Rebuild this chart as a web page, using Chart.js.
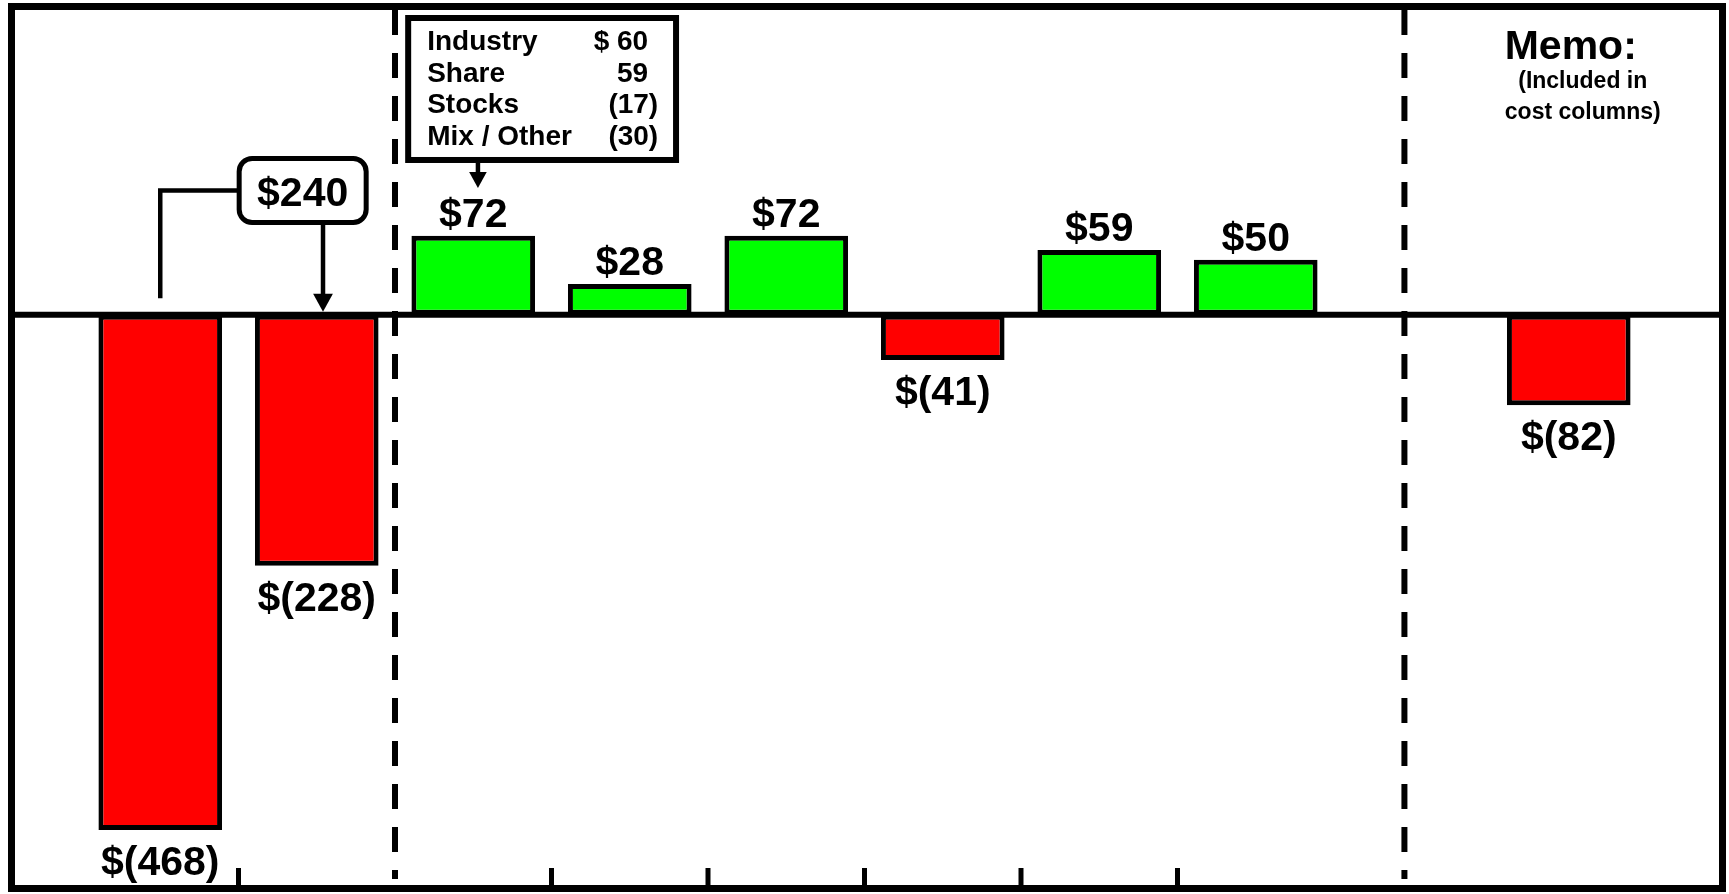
<!DOCTYPE html>
<html>
<head>
<meta charset="utf-8">
<script src="https://cdn.jsdelivr.net/npm/chart.js@4.4.0/dist/chart.umd.min.js"></script>
<style>
  html, body { margin: 0; padding: 0; background: #fff; }
  #wrap { position: relative; width: 1729px; height: 894px; }
</style>
</head>
<body>
<div id="wrap"><canvas id="walkChart"></canvas></div>
<script>
// columns of the walk; slot 8 is the empty gap before the memo column
const categories = ['Prior', 'Current', 'Volume', 'Price', 'Cost A', 'Cost B', 'Cost C', 'Cost D', '', 'Memo'];
const values = [-468, -228, 72, 28, 72, -41, 59, 50, null, -82];
const bridgeTotal = 240;
const breakdownLabels = ['Industry', 'Share', 'Stocks', 'Mix / Other'];
const breakdownValues = [60, 59, -17, -30];
const memoTitle = 'Memo:';
const memoNote = ['(Included in', 'cost columns)'];
const tickBoundaries = [0.5, 2.5, 3.5, 4.5, 5.5, 6.5];
const dividers = [1.5, 7.95];

const RED = '#ff0000';
const GREEN = '#00ff00';
const FONT = "'Liberation Sans', Arial, sans-serif";

function money(v) {
    return v < 0 ? '$(' + Math.abs(v) + ')' : '$' + v;
}

function arrowDown(ctx, x, yFrom, yTip, head, lw) {
    ctx.lineWidth = lw;
    ctx.beginPath();
    ctx.moveTo(x, yFrom);
    ctx.lineTo(x, yTip - head + 2);
    ctx.stroke();
    ctx.beginPath();
    ctx.moveTo(x, yTip);
    ctx.lineTo(x - head * 0.55, yTip - head);
    ctx.lineTo(x + head * 0.55, yTip - head);
    ctx.closePath();
    ctx.fill();
}

const decorPlugin = {
    id: 'decor',
    beforeDatasetsDraw(chart) {
        const { ctx, chartArea, scales: { x, y } } = chart;
        const zeroY = y.getPixelForValue(0);
        ctx.save();
        ctx.strokeStyle = '#000';
        ctx.lineWidth = 6;
        ctx.beginPath();
        ctx.moveTo(14, zeroY);
        ctx.lineTo(chart.width - 9, zeroY);
        ctx.stroke();

        // dashed section dividers
        ctx.setLineDash([25, 18]);
        dividers.forEach(d => {
            const px = x.getPixelForValue(d);
            ctx.beginPath();
            ctx.moveTo(px, chartArea.top);
            ctx.lineTo(px, chartArea.bottom - 6);
            ctx.stroke();
        });
        ctx.setLineDash([]);

        // small ticks on the bottom edge
        ctx.lineWidth = 5;
        tickBoundaries.forEach(b => {
            const px = x.getPixelForValue(b);
            ctx.beginPath();
            ctx.moveTo(px, chartArea.bottom);
            ctx.lineTo(px, chartArea.bottom - 17);
            ctx.stroke();
        });
        ctx.restore();
    },
    afterDatasetsDraw(chart) {
        const { ctx, chartArea, scales: { x, y } } = chart;
        const zeroY = y.getPixelForValue(0);
        const meta = chart.getDatasetMeta(0);
        ctx.save();
        ctx.fillStyle = '#000';
        ctx.strokeStyle = '#000';

        // value labels
        ctx.font = 'bold 41px ' + FONT;
        ctx.textAlign = 'center';
        ctx.textBaseline = 'alphabetic';
        values.forEach((v, i) => {
            if (v == null) return;
            const bar = meta.data[i];
            const ty = v >= 0 ? bar.y - 9 : bar.y + 45;
            ctx.fillText(money(v), bar.x, ty);
        });

        // $240 bridge callout
        const bx = x.getPixelForValue(0.91);
        const by = y.getPixelForValue(113);
        const bw = 127, bh = 64;
        ctx.lineWidth = 5;
        ctx.beginPath();
        ctx.roundRect(bx - bw / 2, by - bh / 2, bw, bh, 13);
        ctx.fillStyle = '#fff';
        ctx.fill();
        ctx.stroke();
        ctx.fillStyle = '#000';
        ctx.fillText('$' + bridgeTotal, bx, by + 15);
        const lx = x.getPixelForValue(0);
        ctx.lineWidth = 4.5;
        ctx.beginPath();
        ctx.moveTo(lx, y.getPixelForValue(15));
        ctx.lineTo(lx, by);
        ctx.lineTo(bx - bw / 2 - 2, by);
        ctx.stroke();
        arrowDown(ctx, x.getPixelForValue(1.04), by + bh / 2 + 2, zeroY - 3, 18, 4.5);

        // breakdown box above the first green column
        const left = x.getPixelForValue(1.565);
        const right = x.getPixelForValue(3.315);
        const top = chartArea.top + 5;
        const bottom = y.getPixelForValue(138);
        ctx.lineWidth = 6;
        ctx.strokeRect(left + 3, top + 3, right - left - 6, bottom - top - 6);
        ctx.font = 'bold 28px ' + FONT;
        breakdownLabels.forEach((lab, i) => {
            const base = top + 35 + i * 31.6;
            const v = breakdownValues[i];
            ctx.textAlign = 'left';
            ctx.fillText(lab, left + 22, base);
            ctx.textAlign = 'right';
            if (v < 0) {
                ctx.fillText('(' + Math.abs(v) + ')', left + 253, base);
            } else {
                ctx.fillText(i === 0 ? '$ ' + v : String(v), left + 243, base);
            }
        });
        arrowDown(ctx, x.getPixelForValue(2.03), bottom, bottom + 25, 16, 4.5);

        // memo heading
        const mx = x.getPixelForValue(9);
        ctx.textAlign = 'center';
        ctx.font = 'bold 41px ' + FONT;
        ctx.fillText(memoTitle, mx + 2, chartArea.top + 49);
        ctx.font = 'bold 23px ' + FONT;
        memoNote.forEach((line, i) => {
            ctx.fillText(line, mx + 14, chartArea.top + 78 + i * 31);
        });

        // outer frame
        ctx.lineWidth = 7;
        ctx.strokeRect(11.5, chartArea.top - 3.5, chart.width - 18, chartArea.bottom - chartArea.top + 7);
        ctx.restore();
    }
};

new Chart(document.getElementById('walkChart').getContext('2d'), {
    type: 'bar',
    data: {
        labels: categories,
        datasets: [{
            data: values,
            backgroundColor: values.map(v => v < 0 ? RED : GREEN),
            borderColor: '#000',
            borderWidth: 5,
            borderSkipped: false,
            categoryPercentage: 1,
            barPercentage: 0.79
        }]
    },
    options: {
        responsive: true,
        maintainAspectRatio: false,
        animation: false,
        layout: { padding: { left: 82, right: 82, top: 10, bottom: 9 } },
        plugins: {
            legend: { display: false },
            tooltip: { enabled: false }
        },
        scales: {
            x: { display: false, grid: { display: false } },
            y: { display: false, min: -518, max: 277, grid: { display: false } }
        }
    },
    plugins: [decorPlugin]
});
</script>
</body>
</html>
